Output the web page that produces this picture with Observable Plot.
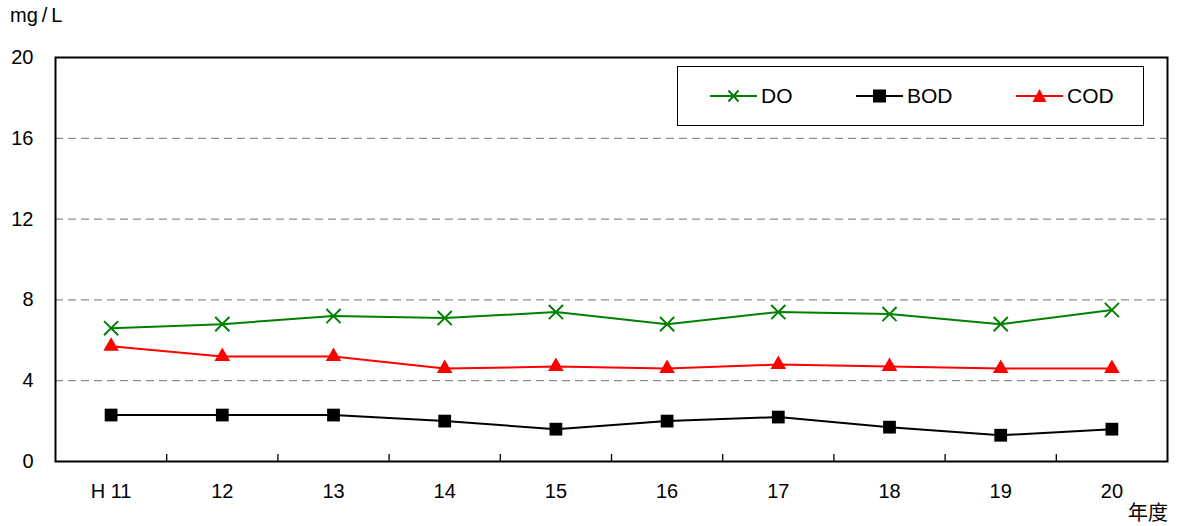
<!DOCTYPE html>
<html><head><meta charset="utf-8">
<script src="https://cdn.jsdelivr.net/npm/d3@7"></script>
<script src="https://cdn.jsdelivr.net/npm/@observablehq/plot@0.6"></script>
<style>
body{margin:0;background:#fff;}
#wrap{position:relative;width:1179px;height:526px;font-family:"Liberation Sans",Arial,"Noto Sans CJK JP",sans-serif;color:#000;}
.abs{position:absolute;white-space:nowrap;}
#legend{position:absolute;left:677px;top:66px;width:465px;height:58px;border:1px solid #000;background:#fff;}
.item{position:absolute;top:0;height:58px;display:flex;align-items:center;font-size:21px;}
.item svg{margin-right:3px;}
</style></head>
<body><div id="wrap"></div>
<script>
const years = ["H 11","12","13","14","15","16","17","18","19","20"];
const doValues  = [6.6,6.8,7.2,7.1,7.4,6.8,7.4,7.3,6.8,7.5];
const bodValues = [2.3,2.3,2.3,2.0,1.6,2.0,2.2,1.7,1.3,1.6];
const codValues = [5.7,5.2,5.2,4.6,4.7,4.6,4.8,4.7,4.6,4.6];
const yTicks = [0,4,8,12,16,20];
const seriesNames = ["DO","BOD","COD"];
const seriesColors = ["#008000","#000000","#ff0000"];

const toRows = vals => vals.map((v,i)=>({i, year: years[i], v}));
const doData = toRows(doValues), bodData = toRows(bodValues), codData = toRows(codValues);

const chart = Plot.plot({
  width:1179, height:526,
  marginLeft:55, marginRight:12, marginTop:57, marginBottom:65,
  style:{fontFamily:'"Liberation Sans",Arial,sans-serif', fontSize:"20px", background:"white", color:"black"},
  x:{type:"linear", domain:[-0.5, years.length-0.5]},
  y:{domain:[0,20]},
  marks:[
    Plot.ruleY(yTicks.filter(d=>d>0 && d<20), {stroke:"#707070", strokeWidth:1, strokeDasharray:"8,5"}),
    Plot.ruleX(d3.range(1, years.length).map(i=>i-0.5), {insetTop:397, stroke:"#000", strokeWidth:1.3}),
    Plot.axisY({ticks:yTicks, tickSize:0, tickPadding:22, tickFormat:d=>String(d), label:null, fontSize:20}),
    Plot.axisX({ticks:d3.range(years.length), tickSize:0, tickPadding:22, tickFormat:i=>years[i], label:null, fontSize:20}),
    Plot.frame({stroke:"#000", strokeWidth:2}),
    Plot.line(doData, {x:"i", y:"v", stroke:seriesColors[0], strokeWidth:2}),
    Plot.line(codData, {x:"i", y:"v", stroke:seriesColors[2], strokeWidth:2}),
    Plot.line(bodData, {x:"i", y:"v", stroke:seriesColors[1], strokeWidth:2}),
    Plot.dot(doData, {x:"i", y:"v", symbol:"times", r:6.5, stroke:seriesColors[0], strokeWidth:2}),
    Plot.dot(codData, {x:"i", y:"v", symbol:"triangle", r:5.8, fill:seriesColors[2], stroke:"none"}),
    Plot.dot(bodData, {x:"i", y:"v", symbol:"square", r:7.2, fill:seriesColors[1], stroke:"none"})
  ]
});
const wrap = document.getElementById("wrap");
wrap.appendChild(chart);

const ylab = document.createElement("div");
ylab.className="abs";
ylab.innerHTML='mg<span style="margin:0 4px">/</span>L';
ylab.style.cssText="left:10px;top:4px;font-size:20px;";
wrap.appendChild(ylab);

const xlab = document.createElement("div");
xlab.className="abs"; xlab.textContent="年度";
xlab.style.cssText='left:1128px;top:500px;font-size:20px;font-family:"Noto Sans CJK JP",sans-serif;line-height:24px;';
wrap.appendChild(xlab);

// legend
const legend = document.createElement("div");
legend.id="legend";
const lefts=[32,178,338];
const markers=[
  '<line x1="0" y1="10" x2="47" y2="10" stroke="#008000" stroke-width="2"/><path d="M18.5,4.5L28.5,15.5M28.5,4.5L18.5,15.5" stroke="#008000" stroke-width="2"/>',
  '<line x1="0" y1="10" x2="47" y2="10" stroke="#000" stroke-width="2"/><rect x="17" y="3.5" width="13" height="13" fill="#000"/>',
  '<line x1="0" y1="10" x2="47" y2="10" stroke="#f00" stroke-width="2"/><path d="M23.5,3L30.5,16L16.5,16Z" fill="#f00"/>'
];
seriesNames.forEach((n,k)=>{
  const it=document.createElement("div");
  it.className="item"; it.style.left=lefts[k]+"px";
  it.innerHTML='<svg width="48" height="20">'+markers[k]+'</svg><span>'+n+'</span>';
  legend.appendChild(it);
});
wrap.appendChild(legend);
</script>
</body></html>
